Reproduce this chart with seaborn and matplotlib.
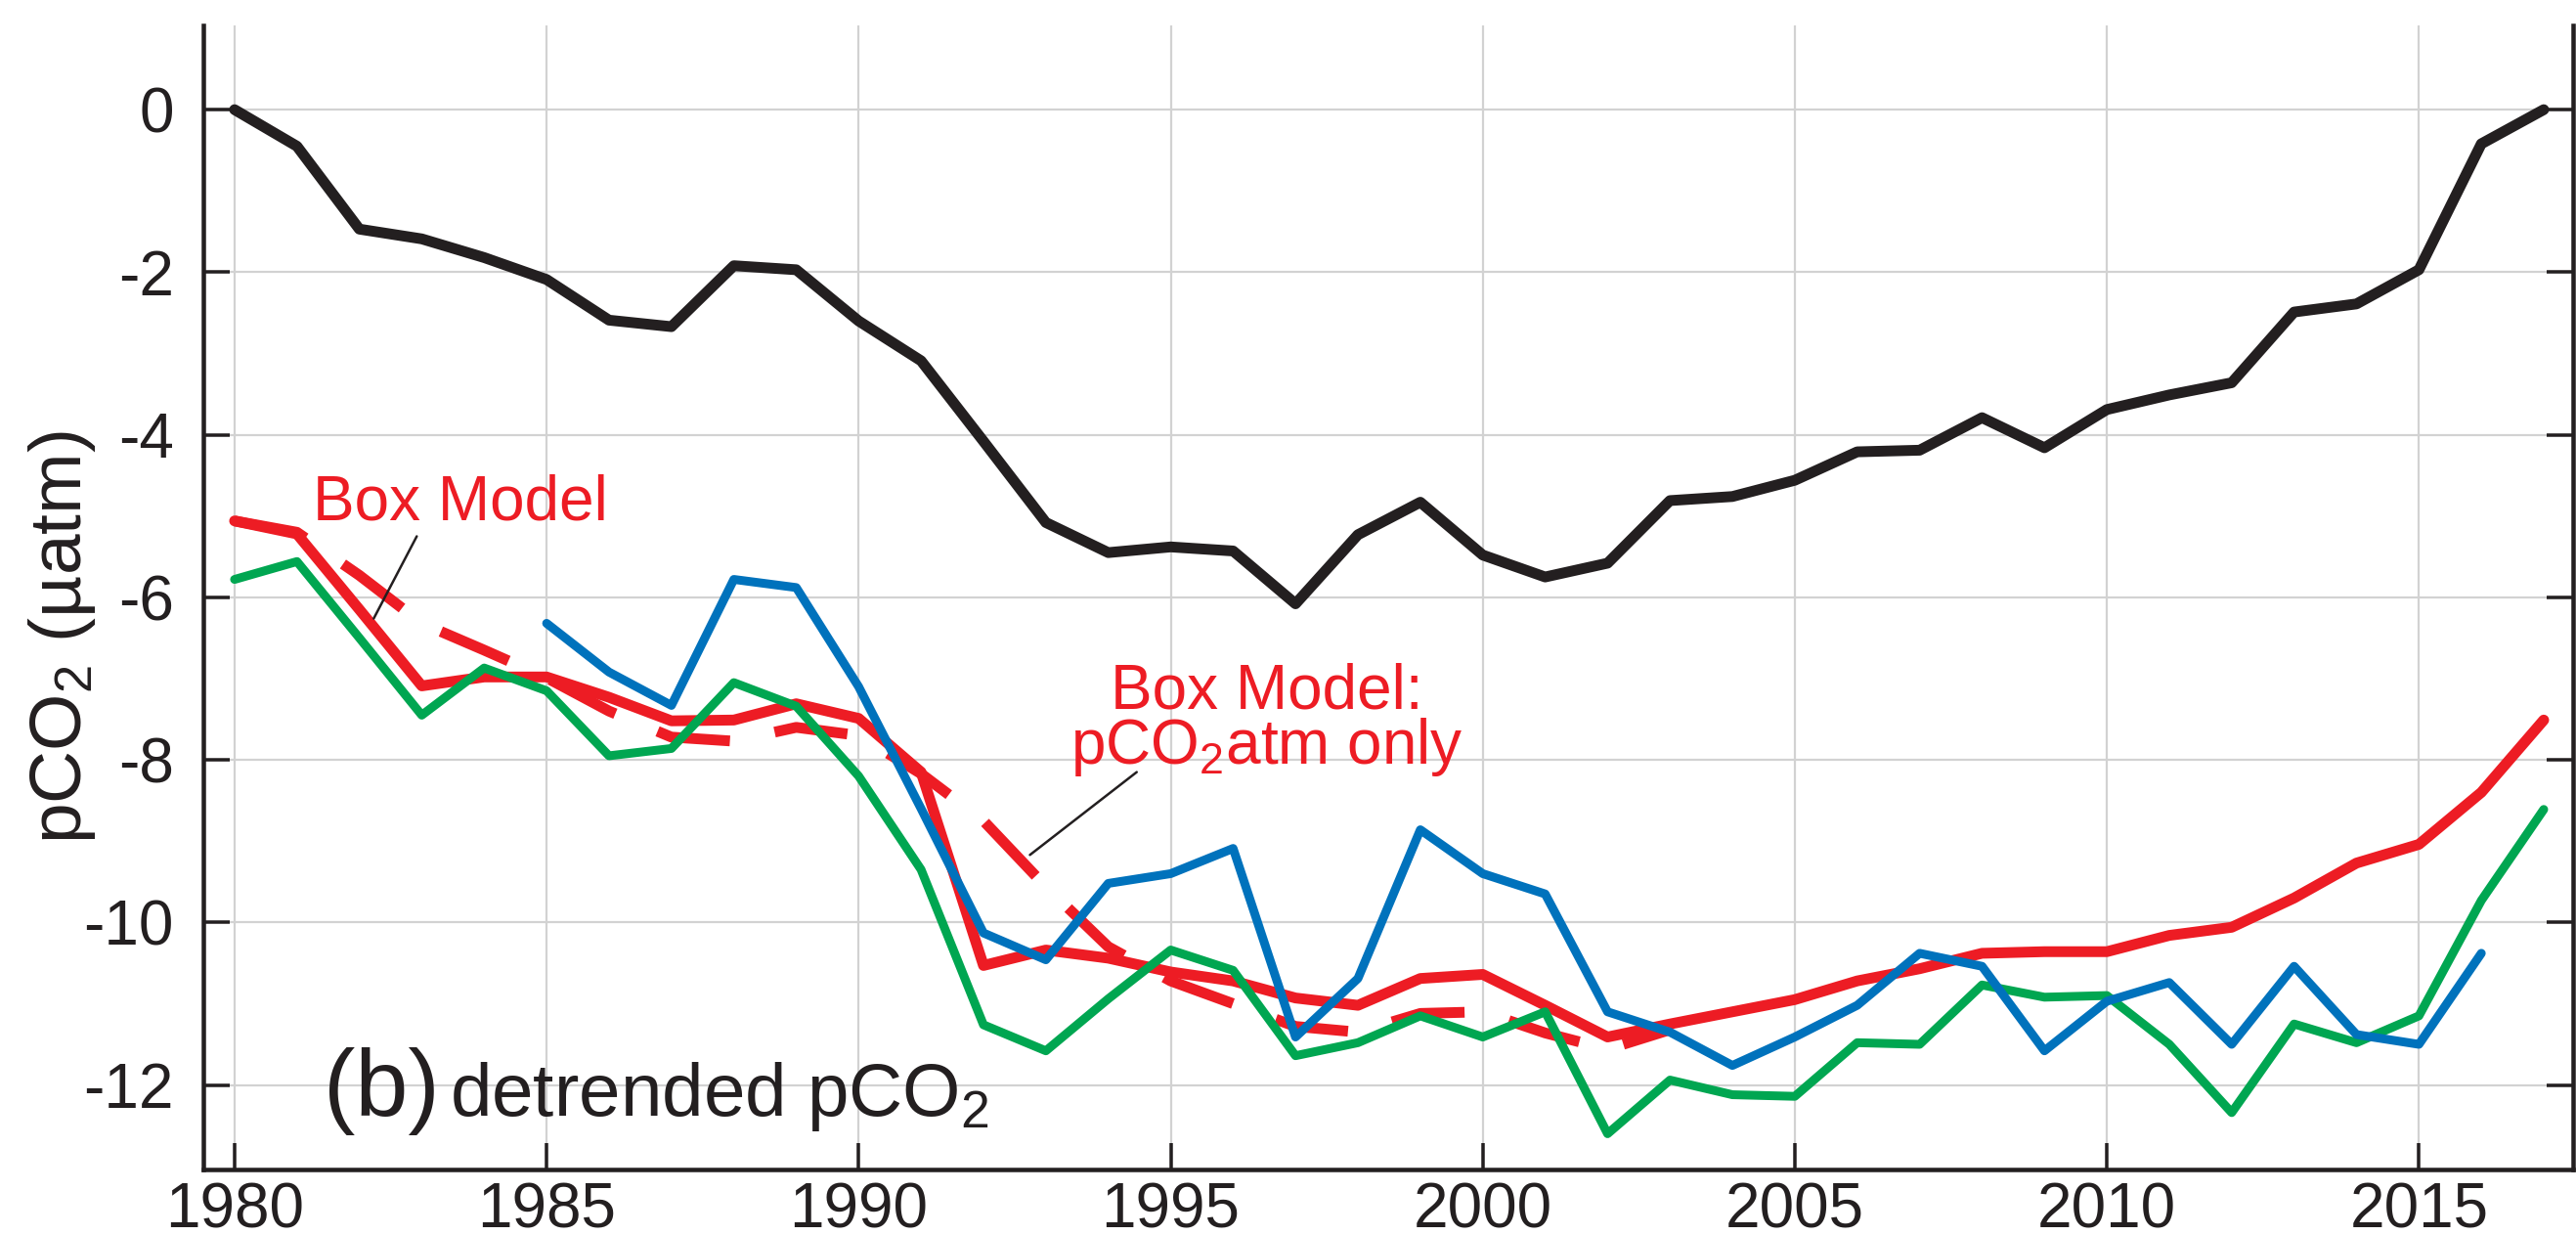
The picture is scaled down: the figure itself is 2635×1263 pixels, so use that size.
import numpy as np
import pandas as pd
import matplotlib
matplotlib.use("Agg")
import matplotlib.pyplot as plt
import seaborn as sns

# ---------------- data ----------------
years = list(range(1980, 2018))
black_vals = [0.0, -0.45, -1.47, -1.59, -1.82, -2.09, -2.59, -2.67, -1.92, -1.97,
              -2.60, -3.09, -4.08, -5.08, -5.45, -5.38, -5.43, -6.08, -5.23, -4.83,
              -5.48, -5.75, -5.58, -4.81, -4.76, -4.56, -4.21, -4.19, -3.79, -4.16,
              -3.69, -3.51, -3.36, -2.49, -2.39, -1.97, -0.42, 0.0]
box_model = [-5.06, -5.22, -6.15, -7.09, -6.98, -6.98, -7.23, -7.52, -7.51, -7.31,
             -7.49, -8.15, -10.53, -10.34, -10.44, -10.61, -10.72, -10.93, -11.02, -10.69,
             -10.64, -11.02, -11.41, -11.25, -11.10, -10.95, -10.72, -10.57, -10.38, -10.36,
             -10.36, -10.16, -10.06, -9.70, -9.27, -9.04, -8.40, -7.51]
years_atm = list(range(1980, 2004))
box_atm_only = [-5.06, -5.20, -5.73, -6.32, -6.65, -6.99, -7.40, -7.72, -7.77, -7.60,
                -7.70, -8.17, -8.75, -9.56, -10.30, -10.72, -11.00, -11.28, -11.35, -11.12,
                -11.10, -11.36, -11.56, -11.32]
years_blue = list(range(1985, 2017))
blue_vals = [-6.32, -6.92, -7.33, -5.78, -5.88,
             -7.10, -8.60, -10.13, -10.46, -9.52, -9.40, -9.09, -11.41, -10.69, -8.86,
             -9.40, -9.65, -11.10, -11.35, -11.76, -11.41, -11.02, -10.38, -10.54, -11.58,
             -10.97, -10.74, -11.50, -10.54, -11.38, -11.50, -10.38]
green_vals = [-5.78, -5.56, -6.50, -7.45, -6.87, -7.15, -7.95, -7.86, -7.05, -7.34,
              -8.20, -9.35, -11.26, -11.58, -10.94, -10.34, -10.59, -11.64, -11.48, -11.15,
              -11.41, -11.10, -12.60, -11.94, -12.12, -12.14, -11.48, -11.50, -10.77, -10.92,
              -10.90, -11.50, -12.34, -11.25, -11.48, -11.15, -9.73, -8.61]
xticks = [1980, 1985, 1990, 1995, 2000, 2005, 2010, 2015]
yticks = [0, -2, -4, -6, -8, -10, -12]

# ---------------- style ----------------
sns.set_theme(style="white")
plt.rcParams['font.family'] = ['Liberation Sans', 'DejaVu Sans']
plt.rcParams['mathtext.fontset'] = 'custom'
plt.rcParams['mathtext.rm'] = 'Liberation Sans'
plt.rcParams['mathtext.default'] = 'regular'
plt.rcParams['axes.unicode_minus'] = False

BLACK = '#231f20'
RED = '#ed1c24'
BLUE = '#0072bc'
GREEN = '#00a651'
px = 0.72  # points per pixel at dpi 100

fig = plt.figure(figsize=(26.35, 12.63), dpi=100)
ax = fig.add_axes([208/2635, 67/1263, (2632-208)/2635, (1196-25.7)/1263])

ax.set_axisbelow(True)
ax.grid(True, color='#d2d2d2', lw=2.2*px)

sns.lineplot(x=years, y=black_vals, ax=ax, color=BLACK, lw=11*px, zorder=3)
sns.lineplot(x=years, y=box_model, ax=ax, color=RED, lw=11*px, zorder=3)
l_atm = sns.lineplot(x=years_atm, y=box_atm_only, ax=ax, color=RED, lw=11*px, zorder=3).lines[-1]
l_atm.set_linestyle((0, (6.85, 4.25)))
l_atm.set_dash_capstyle('butt')
sns.lineplot(x=years, y=green_vals, ax=ax, color=GREEN, lw=9*px, zorder=4)
sns.lineplot(x=years_blue, y=blue_vals, ax=ax, color=BLUE, lw=9*px, zorder=5)

ax.set_xlim(1979.5, 2017.47)
ax.set_ylim(-13.04, 1.04)
ax.set_xticks(xticks)
ax.set_xticklabels([str(t) for t in xticks])
ax.set_yticks(yticks)
ax.set_yticklabels([str(t) for t in yticks])

for s in ['left', 'right', 'bottom']:
    ax.spines[s].set_visible(True)
    ax.spines[s].set_color(BLACK)
    ax.spines[s].set_linewidth(4.5*px)
ax.spines['top'].set_visible(False)

ax.tick_params(axis='both', direction='in', length=27*px, width=3.5*px,
               color=BLACK, labelsize=46, labelcolor=BLACK)
ax.tick_params(axis='y', left=True, right=True, labelright=False, pad=30*px)
ax.tick_params(axis='x', bottom=True, top=False, pad=12*px)

ax.set_ylabel('pCO$_2$ (µatm)', fontsize=54, color=BLACK)
ax.yaxis.set_label_coords(-0.0446, 0.465)

# annotations
ax.text(1981.26, -5.045, 'Box Model', color=RED, fontsize=46, ha='left', va='baseline')
ax.annotate('', xy=(1982.21, -6.29), xytext=(1982.94, -5.22),
            arrowprops=dict(arrowstyle='-', color=BLACK, lw=2.5*px), zorder=6)
ax.text(1996.54, -6.80, 'Box Model:\npCO$_2$atm only', color=RED, fontsize=46,
        ha='center', va='top', multialignment='center', linespacing=0.9)
ax.annotate('', xy=(1992.71, -9.19), xytext=(1994.49, -8.13),
            arrowprops=dict(arrowstyle='-', color=BLACK, lw=2.5*px), zorder=6)

ax.text(1981.43, -12.376, '(b)', color=BLACK, fontsize=70, ha='left', va='baseline')
ax.text(1983.45, -12.376, 'detrended pCO$_2$', color=BLACK, fontsize=55, ha='left', va='baseline')

fig.savefig('out.png', dpi=100, facecolor='white')
